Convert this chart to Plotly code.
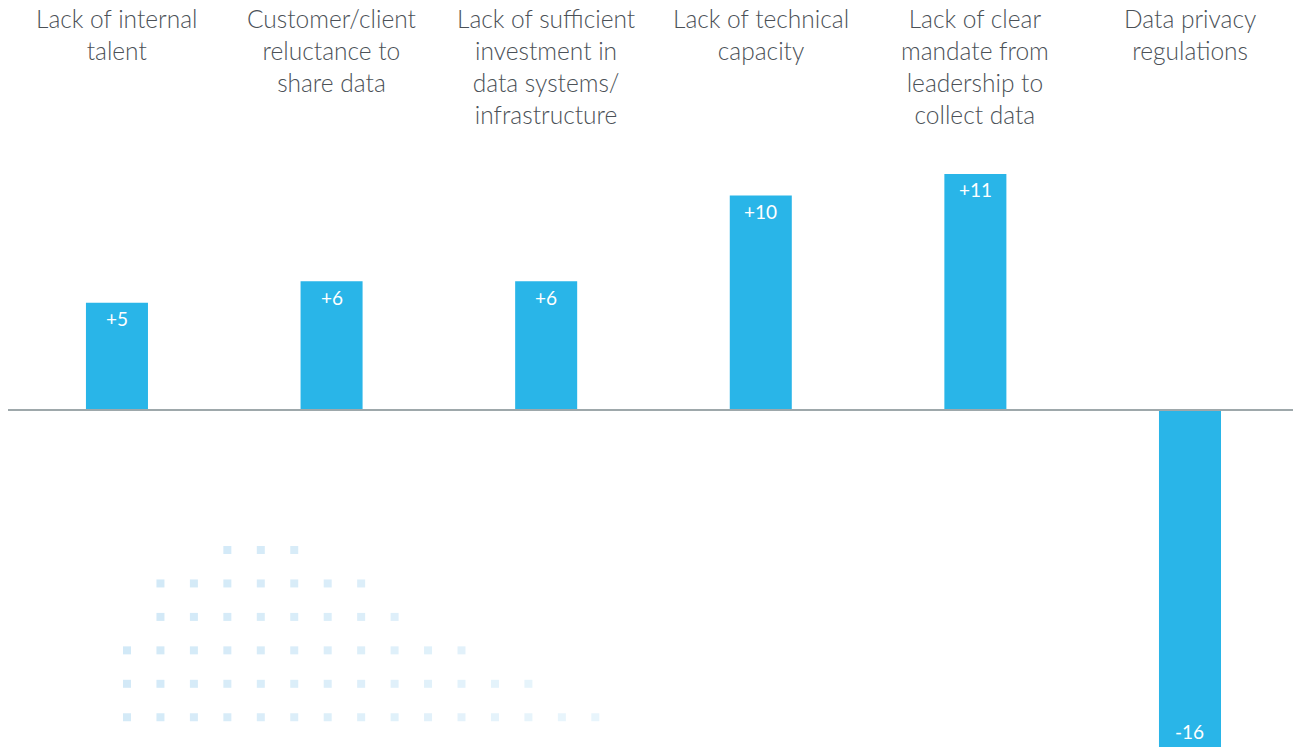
import plotly.graph_objects as go

categories = [
    "Lack of internal<br>talent",
    "Customer/client<br>reluctance to<br>share data",
    "Lack of sufficient<br>investment in<br>data systems/<br>infrastructure",
    "Lack of technical<br>capacity",
    "Lack of clear<br>mandate from<br>leadership to<br>collect data",
    "Data privacy<br>regulations",
]
values = [5, 6, 6, 10, 11, -16]
value_labels = ["+5", "+6", "+6", "+10", "+11", "-16"]

W, H = 1293, 747
BAR = "#29b5e8"
TXT = "#4b5157"
Y_RANGE = [-15.71, 19.11]

x_idx = list(range(len(categories)))

fig = go.Figure()
fig.add_trace(go.Bar(
    x=x_idx, y=values,
    marker=dict(color=BAR, line=dict(width=0)),
    hoverinfo="skip",
))

annotations = []
for i, c in enumerate(categories):
    annotations.append(dict(
        x=i, y=1, xref="x", yref="paper", xanchor="center", yanchor="top",
        yshift=-2,
        text=c, showarrow=False, align="center",
        font=dict(family="Lato Light, Lato", size=24.5, color=TXT),
    ))

# value labels inside the bar end (clamped to the visible axis range)
for i, (v, lab) in enumerate(zip(values, value_labels)):
    yv = max(min(v, Y_RANGE[1]), Y_RANGE[0])
    annotations.append(dict(
        x=i, y=yv, xref="x", yref="y", xanchor="center", yanchor="middle",
        yshift=-16 if v >= 0 else 16,
        text=lab, showarrow=False,
        font=dict(family="Lato", size=19, color="white"),
    ))

# decorative dot pattern (background ornament)
rows = [(3, 5), (1, 7), (1, 8), (0, 10), (0, 12), (0, 14)]
shapes = []
x0p, y0p, step, s = 127.0, 550.0, 33.45, 8.0
c1 = (208, 232, 247)
c2 = (232, 245, 252)
for r, (a, b) in enumerate(rows):
    for c in range(a, b + 1):
        cx = x0p + step * c
        cy = y0p + step * r
        t = min(1.0, max(0.0, (c + r * 0.5) / 15.0))
        col = tuple(int(c1[k] + (c2[k] - c1[k]) * t) for k in range(3))
        shapes.append(dict(
            type="rect", xref="paper", yref="paper", layer="below",
            x0=(cx - s / 2) / W, x1=(cx + s / 2) / W,
            y0=1 - (cy + s / 2) / H, y1=1 - (cy - s / 2) / H,
            fillcolor="rgb(%d,%d,%d)" % col, line=dict(width=0),
        ))

# baseline at zero
shapes.append(dict(
    type="line", xref="paper", yref="y", layer="above",
    x0=8 / W, x1=1, y0=0, y1=0,
    line=dict(color="#9ea8ab", width=2),
))

fig.update_layout(
    width=W, height=H,
    margin=dict(l=0, r=0, t=0, b=0),
    paper_bgcolor="white", plot_bgcolor="white",
    bargap=0.711,
    showlegend=False,
    annotations=annotations,
    shapes=shapes,
    xaxis=dict(range=[-0.545, 5.48], showgrid=False, zeroline=False,
               showticklabels=False, ticks="", fixedrange=True),
    yaxis=dict(range=Y_RANGE, showgrid=False, zeroline=False,
               showticklabels=False, ticks="", fixedrange=True),
)

fig.write_html("out.html", config={"displayModeBar": False})
